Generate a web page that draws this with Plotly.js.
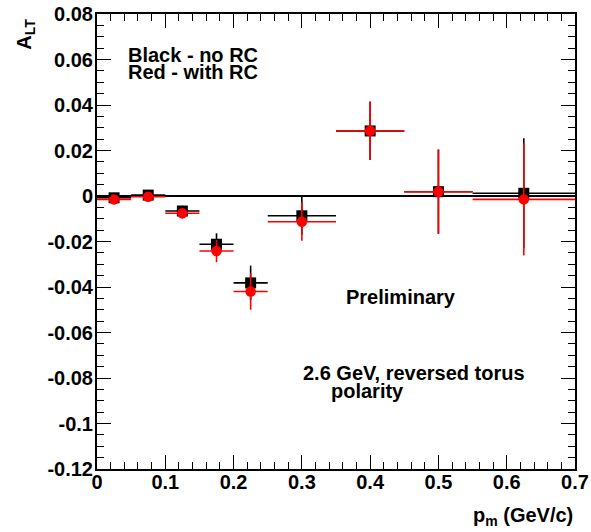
<!DOCTYPE html>
<html>
<head>
<meta charset="utf-8">
<script src="https://cdn.plot.ly/plotly-3.0.1.min.js"></script>
<style>html,body{margin:0;padding:0;background:#fff;}#chart{width:591px;height:532px;}</style>
</head>
<body>
<div id="chart"></div>
<script>
// bin centres and half-widths (GeV/c)
var pm = [0.025, 0.075, 0.125, 0.175, 0.225, 0.3, 0.4, 0.5, 0.625];
var pmHalfWidth = [0.025, 0.025, 0.025, 0.025, 0.025, 0.05, 0.05, 0.05, 0.075];

// Black - no RC
var altNoRC = [-0.0008, 0.0004, -0.0066, -0.0212, -0.0382, -0.0087, 0.0286, 0.0019, 0.0012];
var errNoRC = [0.001, 0.001, 0.0023, 0.0048, 0.0076, 0.0083, 0.0128, 0.0185, 0.0242];

// Red - with RC
var altRC = [-0.0015, -0.0003, -0.0076, -0.0242, -0.0420, -0.0113, 0.0287, 0.0019, -0.0015];
var errRC = [0.001, 0.001, 0.0023, 0.0049, 0.0080, 0.0084, 0.0128, 0.0185, 0.0246];

var xTickVals = [0, 0.1, 0.2, 0.3, 0.4, 0.5, 0.6, 0.7];
var xTickText = ['0', '0.1', '0.2', '0.3', '0.4', '0.5', '0.6', '0.7'];
var yTickVals = [-0.12, -0.1, -0.08, -0.06, -0.04, -0.02, 0, 0.02, 0.04, 0.06, 0.08];
var yTickText = ['-0.12', '-0.1', '-0.08', '-0.06', '-0.04', '-0.02', '0', '0.02', '0.04', '0.06', '0.08'];

var FONT = 'Liberation Sans, Arial, sans-serif';

var traces = [
  {
    x: pm, y: altNoRC, type: 'scatter', mode: 'markers', name: 'no RC',
    marker: {symbol: 'square', size: 11, color: '#000000'},
    error_x: {type: 'data', array: pmHalfWidth, visible: true, width: 0, thickness: 1.6, color: '#000000'},
    error_y: {type: 'data', array: errNoRC, visible: true, width: 0, thickness: 1.6, color: '#000000'},
    cliponaxis: false
  },
  {
    x: pm, y: altRC, type: 'scatter', mode: 'markers', name: 'with RC',
    marker: {symbol: 'circle', size: 10.5, color: '#ff0000'},
    error_x: {type: 'data', array: pmHalfWidth, visible: true, width: 0, thickness: 1.6, color: '#ff0000'},
    error_y: {type: 'data', array: errRC, visible: true, width: 0, thickness: 1.6, color: '#ff0000'},
    cliponaxis: false
  }
];

var tickFont = {family: FONT, size: 20, color: '#000', weight: 'bold'};
var txtFont = {family: FONT, size: 20, color: '#000', weight: 'bold'};

var layout = {
  width: 591, height: 532,
  margin: {l: 97, r: 16, t: 14, b: 63, pad: 0},
  paper_bgcolor: '#ffffff', plot_bgcolor: '#ffffff',
  showlegend: false,
  xaxis: {
    range: [0, 0.7], tickvals: xTickVals, ticktext: xTickText,
    ticks: 'inside', ticklen: 14, tickwidth: 1, tickcolor: '#000',
    minor: {dtick: 0.02, tick0: 0, ticks: 'inside', ticklen: 7, tickwidth: 1, tickcolor: '#000', showgrid: false},
    showgrid: false, zeroline: false,
    showline: true, linecolor: '#000', linewidth: 2, mirror: 'allticks',
    tickfont: tickFont, ticklabelstandoff: -6
  },
  yaxis: {
    range: [-0.12, 0.08], tickvals: yTickVals, ticktext: yTickText,
    ticks: 'inside', ticklen: 14, tickwidth: 1, tickcolor: '#000',
    minor: {dtick: 0.005, tick0: 0, ticks: 'inside', ticklen: 7, tickwidth: 1, tickcolor: '#000', showgrid: false},
    showgrid: false, zeroline: true, zerolinecolor: '#000', zerolinewidth: 1.5,
    showline: true, linecolor: '#000', linewidth: 2, mirror: 'allticks',
    tickfont: tickFont, ticklabelstandoff: -2
  },
  annotations: [
    {text: 'A<sub>LT</sub>', xref: 'paper', yref: 'paper', x: -0.150, y: 0.955, textangle: -90,
     showarrow: false, font: txtFont, xanchor: 'center', yanchor: 'middle'},
    {text: 'p<sub>m</sub> (GeV/c)', xref: 'paper', yref: 'paper', x: 1.0, y: -0.072,
     showarrow: false, font: txtFont, xanchor: 'right', yanchor: 'top'},
    {text: 'Black - no RC', xref: 'x', yref: 'y', x: 0.043, y: 0.062, showarrow: false,
     font: txtFont, xanchor: 'left', yanchor: 'middle'},
    {text: 'Red - with RC', xref: 'x', yref: 'y', x: 0.043, y: 0.0545, showarrow: false,
     font: txtFont, xanchor: 'left', yanchor: 'middle'},
    {text: 'Preliminary', xref: 'x', yref: 'y', x: 0.3615, y: -0.0442, showarrow: false,
     font: txtFont, xanchor: 'left', yanchor: 'middle'},
    {text: '2.6 GeV, reversed torus', xref: 'x', yref: 'y', x: 0.2985, y: -0.0776, showarrow: false,
     font: txtFont, xanchor: 'left', yanchor: 'middle'},
    {text: 'polarity', xref: 'x', yref: 'y', x: 0.3395, y: -0.0857, showarrow: false,
     font: txtFont, xanchor: 'left', yanchor: 'middle'}
  ]
};

Plotly.newPlot('chart', traces, layout, {staticPlot: true, displayModeBar: false});
</script>
</body>
</html>
